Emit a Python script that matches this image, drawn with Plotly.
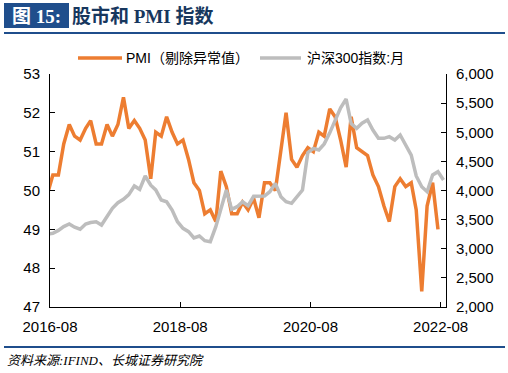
import pandas as pd
import plotly.graph_objects as go

# ---- data ----
months = [d.strftime("%Y-%m-%d") for d in pd.date_range("2016-07-01", "2022-08-01", freq="MS")]

pmi = [
    49.9, 50.4, 50.4, 51.2, 51.7, 51.4,
    51.3, 51.6, 51.8, 51.2, 51.2, 51.7, 51.4, 51.7, 52.4, 51.6, 51.8, 51.6,
    51.3, 50.3, 51.5, 51.4, 51.9, 51.5, 51.2, 51.3, 50.8, 50.2, 50.0, 49.4,
    49.5, 49.2, 50.5, 50.1, 49.4, 49.4, 49.7, 49.5, 49.8, 49.3, 50.2, 50.2,
    50.0, None, 52.0, 50.8, 50.6, 50.9, 51.1, 51.0, 51.5, 51.4, 52.1, 51.9,
    51.3, 50.6, 51.9, 51.1, 51.0, 50.9, 50.4, 50.1, 49.6, 49.2, 50.1, 50.3,
    50.1, 50.2, 49.5, 47.4, 49.6, 50.2, 49.0, None,
]

hs300 = [
    3250,
    3265, 3315, 3380, 3425, 3370, 3335, 3425, 3450, 3464, 3407, 3550, 3694,
    3790, 3850, 3930, 4077, 4020, 4249, 4090, 4010, 3837, 3807, 3665, 3464,
    3351, 3293, 3185, 3219, 3138, 3121, 3378, 3665, 4008, 3676, 3722, 3807,
    3740, 3900, 3900, 3905, 3979, 4123, 3893, 3807, 3780, 3893, 4008, 4650,
    4724, 4695, 4800, 4990, 5200, 5420, 5570, 5150, 5068, 5154, 5210, 5038,
    4896, 4896, 4924, 4867, 4953, 4781, 4609, 4250, 4065, 3979, 4266, 4323,
    4180,
]

tick_vals = ["2016-07-16", "2018-07-16", "2020-07-16", "2022-07-16"]
tick_text = ["2016-08", "2018-08", "2020-08", "2022-08"]

name_pmi = "PMI（剔除异常值）"
name_hs = "沪深300指数:月"
title_tag = "图 15:"
title_text = "股市和 PMI 指数"
source_text = "资料来源:IFIND、长城证券研究院"

# ---- figure ----
W, H = 508, 373
L, R, T, B = 50, 446, 74, 307
pw, ph = R - L, B - T
def px(x):
    return (x - L) / pw
def py(y):
    return (B - y) / ph

ORANGE = "#ED7D31"
GRAY = "#BDBDBD"
BLUE = "#1F4E8C"
NAVY = "#17375E"
SANS = "Liberation Sans, Arial, Noto Sans CJK SC, sans-serif"
SERIF = "Liberation Serif, Noto Sans CJK SC, serif"

fig = go.Figure()
fig.add_trace(go.Scatter(x=months, y=pmi, name=name_pmi, mode="lines",
                         line=dict(color=ORANGE, width=3.5), connectgaps=True))
fig.add_trace(go.Scatter(x=months, y=hs300, name=name_hs, mode="lines",
                         line=dict(color=GRAY, width=3.5), yaxis="y2"))

axis_common = dict(showline=True, linecolor="black", linewidth=1, ticks="inside",
                   ticklen=5, tickcolor="black", showgrid=False, zeroline=False,
                   tickfont=dict(family=SANS, size=15, color="black"))

fig.update_layout(
    width=W, height=H,
    margin=dict(l=L, r=W - R, t=T, b=H - B, pad=0, autoexpand=False),
    paper_bgcolor="white", plot_bgcolor="white",
    showlegend=False,
    xaxis=dict(type="date", range=["2016-07-16", "2022-08-15"], tickvals=tick_vals,
               ticktext=tick_text, ticklabelstandoff=6, **axis_common),
    yaxis=dict(range=[47, 53], dtick=1, ticklabelstandoff=6, **axis_common),
    yaxis2=dict(range=[2000, 6000], dtick=500, tickformat=",d", overlaying="y",
                side="right", ticklabelstandoff=6, **axis_common),
)

shapes = [
    dict(type="rect", xref="paper", yref="paper", x0=px(4), x1=px(69), y0=py(28), y1=py(3),
         fillcolor=BLUE, line=dict(width=0), layer="below"),
    dict(type="line", xref="paper", yref="paper", x0=px(4), x1=px(505), y0=py(33), y1=py(33),
         line=dict(color=BLUE, width=2)),
    dict(type="line", xref="paper", yref="paper", x0=px(4), x1=px(505), y0=py(347), y1=py(347),
         line=dict(color=BLUE, width=2)),
    # legend samples
    dict(type="line", xref="paper", yref="paper", x0=px(78), x1=px(122), y0=py(58), y1=py(58),
         line=dict(color=ORANGE, width=3.5)),
    dict(type="line", xref="paper", yref="paper", x0=px(260), x1=px(301), y0=py(58), y1=py(58),
         line=dict(color=GRAY, width=3.5)),
]
fig.update_layout(shapes=shapes)

fig.add_annotation(text=name_pmi, xref="paper", yref="paper", x=px(124), y=py(58),
                   xanchor="left", yanchor="middle", showarrow=False,
                   font=dict(family=SANS, size=14, color="black"))
fig.add_annotation(text=name_hs, xref="paper", yref="paper", x=px(305), y=py(58),
                   xanchor="left", yanchor="middle", showarrow=False,
                   font=dict(family=SANS, size=14, color="black"))

fig.add_annotation(text="<b>" + title_tag + "</b>", xref="paper", yref="paper",
                   x=px(36), y=py(16), xanchor="center", yanchor="middle", showarrow=False,
                   font=dict(family=SERIF, size=19, color="white"))
fig.add_annotation(text="<b>" + title_text + "</b>", xref="paper", yref="paper",
                   x=px(70), y=py(16), xanchor="left", yanchor="middle", showarrow=False,
                   font=dict(family=SERIF, size=19, color=NAVY))
fig.add_annotation(text="<i>" + source_text + "</i>", xref="paper", yref="paper",
                   x=px(5), y=py(360), xanchor="left", yanchor="middle", showarrow=False,
                   font=dict(family=SERIF, size=13, color="black"))

fig.write_html("out.html", config={"displayModeBar": False},
               post_script="document.body.style.margin='0';")
